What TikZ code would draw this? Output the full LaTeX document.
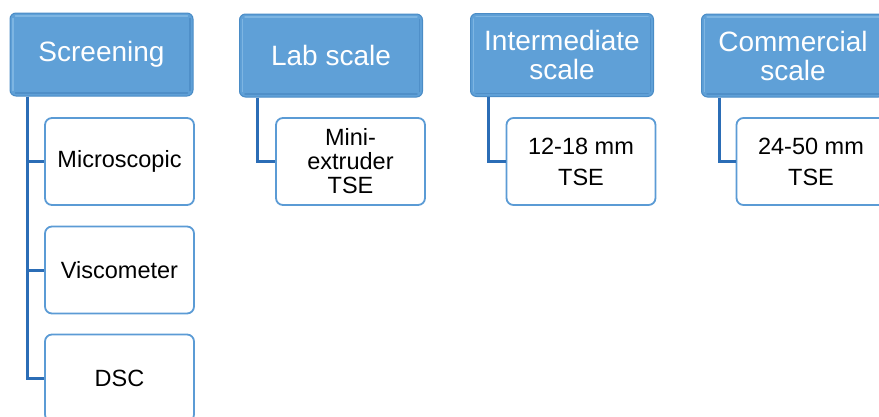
\documentclass[tikz,border=0pt]{standalone}
\usepackage{fontspec}
\setmainfont{Liberation Sans}
\definecolor{headfill}{HTML}{5FA0D7}
\definecolor{headedge}{HTML}{4A8CC6}
\definecolor{headlight}{HTML}{7DB5E2}
\definecolor{headdark}{HTML}{4F8FC8}
\definecolor{boxedge}{HTML}{5B9BD5}
\definecolor{connblue}{HTML}{2B6DB6}
\begin{document}
\begin{tikzpicture}[x=1pt,y=-1pt,
  header/.style={draw=headedge, line width=1pt, fill=headfill, rounded corners=6pt,
    minimum width=183pt, minimum height=83pt, inner sep=0pt, align=center,
    text=white, font=\fontsize{28}{29}\selectfont},
  itembox/.style={draw=boxedge, line width=1.8pt, fill=white, rounded corners=7pt,
    minimum width=149pt, minimum height=87pt, inner sep=0pt, align=center,
    text=black, font=\fontsize{23.5}{24}\selectfont},
  conn/.style={draw=connblue, line width=3pt}]
\useasboundingbox (0,0) rectangle (879,416);
\clip (0,0) rectangle (879,416);

% column headers
\node[header] (scr) at (101.5,54.5) {Screening};
\node[header] (lab) at (331,55.5) {Lab scale};
\node[header] (mid) at (562,55) {Intermediate\\scale};
\node[header] (com) at (793,55.5) {Commercial\\scale};

% soft bevel: light band on top/left, darker band on bottom/right
\foreach \h in {scr,lab,mid,com}{
  \draw[headlight, line width=1.5pt, line cap=round]
    ([xshift=3.5pt,yshift=6pt]\h.south west) -- ([xshift=3.5pt,yshift=-6pt]\h.north west)
    ([xshift=6pt,yshift=-3.5pt]\h.north west) -- ([xshift=-6pt,yshift=-3.5pt]\h.north east);
  \draw[headdark, line width=1.5pt, line cap=round]
    ([xshift=6pt,yshift=3.5pt]\h.south west) -- ([xshift=-6pt,yshift=3.5pt]\h.south east)
    ([xshift=-3.5pt,yshift=6pt]\h.south east) -- ([xshift=-3.5pt,yshift=-6pt]\h.north east);
}

% child boxes
\node[itembox] (mic) at (119.5,161.5) {Microscopic};
\node[itembox] (vis) at (119.5,270) {Viscometer};
\node[itembox] (dsc) at (119.5,378) {DSC};
\node[itembox] (mini) at (350.5,161.5) {Mini-\\extruder\\TSE};
\node[itembox, font=\fontsize{23.5}{31}\selectfont] (tse12) at (581,161.5) {12-18 mm\\TSE};
\node[itembox, font=\fontsize{23.5}{31}\selectfont] (tse24) at (811,161.5) {24-50 mm\\TSE};

% tree connectors
\draw[conn] ([xshift=18pt]scr.south west) |- (mic.west);
\draw[conn] ([xshift=18pt]scr.south west) |- (vis.west);
\draw[conn] ([xshift=18pt]scr.south west) |- (dsc.west);
\draw[conn] ([xshift=18pt]lab.south west) |- (mini.west);
\draw[conn] ([xshift=18pt]mid.south west) |- (tse12.west);
\draw[conn] ([xshift=18pt]com.south west) |- (tse24.west);
\end{tikzpicture}
\end{document}
